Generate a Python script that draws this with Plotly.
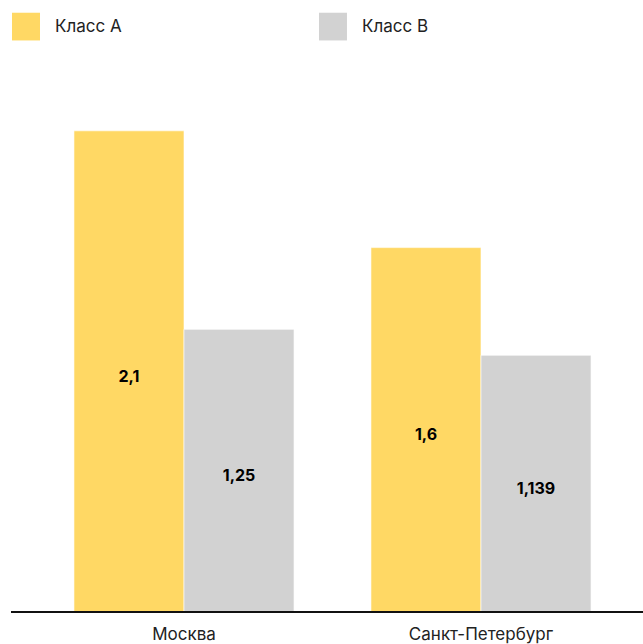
import plotly.graph_objects as go

categories = ["Москва", "Санкт-Петербург"]
series_names = ["Класс А", "Класс В"]
class_a = [2.1, 1.6]
class_b = [1.25, 1.139]
label_a = ["2,1", "1,6"]
label_b = ["1,25", "1,139"]
colors = ["#FFD864", "#D2D2D2"]

FONT = "Inter, Roboto, sans-serif"

fig = go.Figure()
for name, vals, labels, col in [(series_names[0], class_a, label_a, colors[0]),
                                 (series_names[1], class_b, label_b, colors[1])]:
    fig.add_trace(go.Bar(
        x=categories, y=vals, name=name, text=labels,
        textposition="inside", insidetextanchor="middle",
        textfont=dict(family=FONT, size=16, color="#000000", weight="bold"),
        marker=dict(color=col, line=dict(color="rgba(255,255,255,0.6)", width=1)),
        showlegend=False, hoverinfo="skip",
    ))

# legend keys
for i, (name, col) in enumerate(zip(series_names, colors)):
    x0 = 0.0016 + i * 0.4857
    fig.add_shape(type="rect", xref="paper", yref="paper",
                  x0=x0, x1=x0 + 0.0443, y0=1.0784, y1=1.1307,
                  fillcolor=col, line=dict(width=0))
    fig.add_annotation(xref="paper", yref="paper", x=x0 + 0.0649, y=1.1064,
                       text=name, showarrow=False, xanchor="left", yanchor="middle",
                       font=dict(family=FONT, size=17, color="#222222"))

# baseline
fig.add_shape(type="line", xref="paper", yref="paper", x0=0, x1=1, y0=0, y1=0,
              line=dict(color="#111111", width=2))

fig.update_layout(
    width=643, height=644,
    margin=dict(l=11, r=0, t=82, b=26.5),
    barmode="group", bargap=0.259, bargroupgap=0,
    plot_bgcolor="white", paper_bgcolor="white",
    xaxis=dict(range=[-0.5825, 1.5455], showgrid=False, showline=False, ticks="",
               ticklabelstandoff=10,
               tickfont=dict(family=FONT, size=17, color="#222222"), fixedrange=True),
    yaxis=dict(range=[0.04, 2.309], visible=False, showgrid=False, zeroline=False,
               fixedrange=True),
)

fig.write_html("out.html",
               config={"displayModeBar": False, "staticPlot": True},
               post_script="document.body.style.margin='0';document.body.style.overflow='hidden';")
